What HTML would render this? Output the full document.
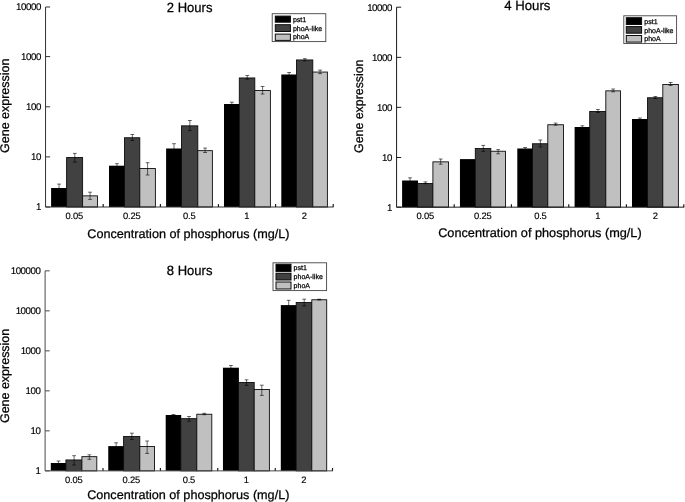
<!DOCTYPE html>
<html lang="en"><head><meta charset="utf-8"><title>Gene expression vs phosphorus concentration</title>
<style>
html,body{margin:0;padding:0;background:#fff;}
body{width:685px;height:502px;overflow:hidden;}
svg{display:block;font-family:'Liberation Sans', Arial, sans-serif;text-rendering:geometricPrecision;}
</style></head><body>
<svg width="685" height="502" viewBox="0 0 685 502">
<rect width="685" height="502" fill="#fff"/>
<rect x="51.1" y="188" width="15.9" height="19" fill="#000"/>
<rect x="66.6" y="157.55" width="16" height="49.45" fill="#414141" stroke="#0d0d0d" stroke-width="0.9"/>
<rect x="82.6" y="195.85" width="14.9" height="11.15" fill="#c0c0c0" stroke="#0d0d0d" stroke-width="0.9"/>
<path d="M59.05 184.1V191.5M57.15 184.1H60.95M57.15 191.5H60.95" stroke="#000" stroke-width="0.7" stroke-opacity="0.85" fill="none"/>
<path d="M74.8 153.4V162.1M72.9 153.4H76.7M72.9 162.1H76.7" stroke="#000" stroke-width="0.7" stroke-opacity="0.85" fill="none"/>
<path d="M90.05 192.2V199.4M88.15 192.2H91.95M88.15 199.4H91.95" stroke="#000" stroke-width="0.7" stroke-opacity="0.85" fill="none"/>
<rect x="109" y="165.7" width="15.9" height="41.3" fill="#000"/>
<rect x="124.5" y="137.75" width="15.3" height="69.25" fill="#414141" stroke="#0d0d0d" stroke-width="0.9"/>
<rect x="139.8" y="168.55" width="15.6" height="38.45" fill="#c0c0c0" stroke="#0d0d0d" stroke-width="0.9"/>
<path d="M116.95 163.7V168M115.05 163.7H118.85M115.05 168H118.85" stroke="#000" stroke-width="0.7" stroke-opacity="0.85" fill="none"/>
<path d="M132.35 134.5V140.5M130.45 134.5H134.25M130.45 140.5H134.25" stroke="#000" stroke-width="0.7" stroke-opacity="0.85" fill="none"/>
<path d="M147.6 162.7V175M145.7 162.7H149.5M145.7 175H149.5" stroke="#000" stroke-width="0.7" stroke-opacity="0.85" fill="none"/>
<rect x="166.1" y="148.5" width="15.8" height="58.5" fill="#000"/>
<rect x="181.5" y="125.85" width="16.3" height="81.15" fill="#414141" stroke="#0d0d0d" stroke-width="0.9"/>
<rect x="197.8" y="150.65" width="14.6" height="56.35" fill="#c0c0c0" stroke="#0d0d0d" stroke-width="0.9"/>
<path d="M174 143.7V154M172.1 143.7H175.9M172.1 154H175.9" stroke="#000" stroke-width="0.7" stroke-opacity="0.85" fill="none"/>
<path d="M189.85 120.5V130.6M187.95 120.5H191.75M187.95 130.6H191.75" stroke="#000" stroke-width="0.7" stroke-opacity="0.85" fill="none"/>
<path d="M205.1 148.1V152.5M203.2 148.1H207M203.2 152.5H207" stroke="#000" stroke-width="0.7" stroke-opacity="0.85" fill="none"/>
<rect x="224" y="104" width="15.7" height="103" fill="#000"/>
<rect x="239.3" y="77.95" width="15.5" height="129.05" fill="#414141" stroke="#0d0d0d" stroke-width="0.9"/>
<rect x="254.8" y="90.55" width="15.6" height="116.45" fill="#c0c0c0" stroke="#0d0d0d" stroke-width="0.9"/>
<path d="M231.85 102.2V106M229.95 102.2H233.75M229.95 106H233.75" stroke="#000" stroke-width="0.7" stroke-opacity="0.85" fill="none"/>
<path d="M247.25 75.5V79.2M245.35 75.5H249.15M245.35 79.2H249.15" stroke="#000" stroke-width="0.7" stroke-opacity="0.85" fill="none"/>
<path d="M262.6 86.5V94M260.7 86.5H264.5M260.7 94H264.5" stroke="#000" stroke-width="0.7" stroke-opacity="0.85" fill="none"/>
<rect x="281.3" y="74.5" width="15.6" height="132.5" fill="#000"/>
<rect x="296.5" y="59.95" width="16.3" height="147.05" fill="#414141" stroke="#0d0d0d" stroke-width="0.9"/>
<rect x="312.8" y="72.05" width="14.6" height="134.95" fill="#c0c0c0" stroke="#0d0d0d" stroke-width="0.9"/>
<path d="M289.1 72.5V76.5M287.2 72.5H291M287.2 76.5H291" stroke="#000" stroke-width="0.7" stroke-opacity="0.85" fill="none"/>
<path d="M304.85 58.7V60.8M302.95 58.7H306.75M302.95 60.8H306.75" stroke="#000" stroke-width="0.7" stroke-opacity="0.85" fill="none"/>
<path d="M320.1 70.1V73.6M318.2 70.1H322M318.2 73.6H322" stroke="#000" stroke-width="0.7" stroke-opacity="0.85" fill="none"/>
<path d="M45.55 7V207H333.6" stroke="#333" stroke-width="1" fill="none"/>
<path d="M45.55 7h4.6" stroke="#333" stroke-width="1"/>
<text x="40.95" y="10.3" font-size="9.7" text-anchor="end" fill="#000" letter-spacing="-0.42" stroke="#000" stroke-width="0.15">10000</text>
<path d="M45.55 56.6h4.6" stroke="#333" stroke-width="1"/>
<text x="40.95" y="59.9" font-size="9.7" text-anchor="end" fill="#000" letter-spacing="-0.42" stroke="#000" stroke-width="0.15">1000</text>
<path d="M45.55 106.8h4.6" stroke="#333" stroke-width="1"/>
<text x="40.95" y="110.1" font-size="9.7" text-anchor="end" fill="#000" letter-spacing="-0.42" stroke="#000" stroke-width="0.15">100</text>
<path d="M45.55 156.9h4.6" stroke="#333" stroke-width="1"/>
<text x="40.95" y="160.2" font-size="9.7" text-anchor="end" fill="#000" letter-spacing="-0.42" stroke="#000" stroke-width="0.15">10</text>
<path d="M45.55 207h4.6" stroke="#333" stroke-width="1"/>
<text x="40.95" y="210.3" font-size="9.7" text-anchor="end" fill="#000" letter-spacing="-0.42" stroke="#000" stroke-width="0.15">1</text>
<path d="M103.2 207v-2.9" stroke="#151515" stroke-width="1.15"/>
<path d="M160.4 207v-2.9" stroke="#151515" stroke-width="1.15"/>
<path d="M218.45 207v-2.9" stroke="#151515" stroke-width="1.15"/>
<path d="M275.6 207v-2.9" stroke="#151515" stroke-width="1.15"/>
<path d="M333.2 207v-2.9" stroke="#151515" stroke-width="1.15"/>
<text x="74.3" y="218.7" font-size="9.4" text-anchor="middle" fill="#000" letter-spacing="-0.2" stroke="#000" stroke-width="0.15">0.05</text>
<text x="131.8" y="218.7" font-size="9.4" text-anchor="middle" fill="#000" letter-spacing="-0.2" stroke="#000" stroke-width="0.15">0.25</text>
<text x="189.3" y="218.7" font-size="9.4" text-anchor="middle" fill="#000" letter-spacing="-0.2" stroke="#000" stroke-width="0.15">0.5</text>
<text x="246.8" y="218.7" font-size="9.4" text-anchor="middle" fill="#000" letter-spacing="-0.2" stroke="#000" stroke-width="0.15">1</text>
<text x="304.3" y="218.7" font-size="9.4" text-anchor="middle" fill="#000" letter-spacing="-0.2" stroke="#000" stroke-width="0.15">2</text>
<text x="189.6" y="11.8" font-size="13.4" text-anchor="middle" fill="#000" textLength="45.6" lengthAdjust="spacingAndGlyphs" stroke="#000" stroke-width="0.25">2 Hours</text>
<text x="188.4" y="237.6" font-size="12.5" text-anchor="middle" fill="#000" textLength="202.2" lengthAdjust="spacingAndGlyphs" stroke="#000" stroke-width="0.25">Concentration of phosphorus (mg/L)</text>
<text x="9.2" y="105.8" font-size="12.5" text-anchor="middle" fill="#000" textLength="94.3" lengthAdjust="spacingAndGlyphs" stroke="#000" stroke-width="0.25" transform="rotate(-90 9.2 105.8)">Gene expression</text>
<rect x="272.2" y="13.7" width="53.6" height="27.9" fill="#fff" stroke="#444" stroke-width="0.9"/>
<rect x="275.3" y="16.1" width="15.1" height="6.1" fill="#000" stroke="#0a0a0a" stroke-width="1"/>
<text x="292.9" y="21.5" font-size="7" text-anchor="start" fill="#000" stroke="#000" stroke-width="0.25">pst1</text>
<rect x="275.3" y="24.7" width="15.1" height="6.8" fill="#414141" stroke="#0a0a0a" stroke-width="1"/>
<text x="292.9" y="31" font-size="7" text-anchor="start" fill="#000" stroke="#000" stroke-width="0.25">phoA-like</text>
<rect x="275.3" y="34.1" width="15.1" height="6.3" fill="#c0c0c0" stroke="#0a0a0a" stroke-width="1"/>
<text x="292.9" y="39.3" font-size="7" text-anchor="start" fill="#000" stroke="#000" stroke-width="0.25">phoA</text>
<rect x="402.1" y="180.5" width="15.9" height="26.67" fill="#000"/>
<rect x="417.6" y="183.45" width="15.3" height="23.72" fill="#414141" stroke="#0d0d0d" stroke-width="0.9"/>
<rect x="432.9" y="161.85" width="15.6" height="45.32" fill="#c0c0c0" stroke="#0d0d0d" stroke-width="0.9"/>
<path d="M410.05 177.8V183M408.15 177.8H411.95M408.15 183H411.95" stroke="#000" stroke-width="0.7" stroke-opacity="0.85" fill="none"/>
<path d="M425.45 181.9V183.7M423.55 181.9H427.35M423.55 183.7H427.35" stroke="#000" stroke-width="0.7" stroke-opacity="0.85" fill="none"/>
<path d="M440.7 159V164.2M438.8 159H442.6M438.8 164.2H442.6" stroke="#000" stroke-width="0.7" stroke-opacity="0.85" fill="none"/>
<rect x="459.95" y="159.1" width="15.75" height="48.07" fill="#000"/>
<rect x="475.3" y="148.45" width="15.5" height="58.72" fill="#414141" stroke="#0d0d0d" stroke-width="0.9"/>
<rect x="490.8" y="151.25" width="14.7" height="55.92" fill="#c0c0c0" stroke="#0d0d0d" stroke-width="0.9"/>
<path d="M483.25 145.4V151.4M481.35 145.4H485.15M481.35 151.4H485.15" stroke="#000" stroke-width="0.7" stroke-opacity="0.85" fill="none"/>
<path d="M498.15 149.6V153.8M496.25 149.6H500.05M496.25 153.8H500.05" stroke="#000" stroke-width="0.7" stroke-opacity="0.85" fill="none"/>
<rect x="517.3" y="148.5" width="15.6" height="58.67" fill="#000"/>
<rect x="532.5" y="143.75" width="15.3" height="63.42" fill="#414141" stroke="#0d0d0d" stroke-width="0.9"/>
<rect x="547.8" y="124.75" width="15.7" height="82.42" fill="#c0c0c0" stroke="#0d0d0d" stroke-width="0.9"/>
<path d="M525.1 147.5V149.5M523.2 147.5H527M523.2 149.5H527" stroke="#000" stroke-width="0.7" stroke-opacity="0.85" fill="none"/>
<path d="M540.35 140V147M538.45 140H542.25M538.45 147H542.25" stroke="#000" stroke-width="0.7" stroke-opacity="0.85" fill="none"/>
<path d="M555.65 123.1V125.2M553.75 123.1H557.55M553.75 125.2H557.55" stroke="#000" stroke-width="0.7" stroke-opacity="0.85" fill="none"/>
<rect x="574.6" y="127" width="15.5" height="80.17" fill="#000"/>
<rect x="589.7" y="111.45" width="16.1" height="95.72" fill="#414141" stroke="#0d0d0d" stroke-width="0.9"/>
<rect x="605.8" y="90.85" width="14.7" height="116.32" fill="#c0c0c0" stroke="#0d0d0d" stroke-width="0.9"/>
<path d="M582.35 125.8V128M580.45 125.8H584.25M580.45 128H584.25" stroke="#000" stroke-width="0.7" stroke-opacity="0.85" fill="none"/>
<path d="M597.95 109.5V112.5M596.05 109.5H599.85M596.05 112.5H599.85" stroke="#000" stroke-width="0.7" stroke-opacity="0.85" fill="none"/>
<path d="M613.15 89V91.8M611.25 89H615.05M611.25 91.8H615.05" stroke="#000" stroke-width="0.7" stroke-opacity="0.85" fill="none"/>
<rect x="632" y="119" width="15.9" height="88.17" fill="#000"/>
<rect x="647.5" y="97.75" width="15.3" height="109.42" fill="#414141" stroke="#0d0d0d" stroke-width="0.9"/>
<rect x="662.8" y="84.45" width="15.6" height="122.72" fill="#c0c0c0" stroke="#0d0d0d" stroke-width="0.9"/>
<path d="M639.95 118V120M638.05 118H641.85M638.05 120H641.85" stroke="#000" stroke-width="0.7" stroke-opacity="0.85" fill="none"/>
<path d="M655.35 96.5V98.5M653.45 96.5H657.25M653.45 98.5H657.25" stroke="#000" stroke-width="0.7" stroke-opacity="0.85" fill="none"/>
<path d="M670.6 82.5V85.5M668.7 82.5H672.5M668.7 85.5H672.5" stroke="#000" stroke-width="0.7" stroke-opacity="0.85" fill="none"/>
<path d="M396.58 7.14V207.17H684.2" stroke="#1c1c1c" stroke-width="1" fill="none"/>
<path d="M396.58 7.2h4.6" stroke="#1c1c1c" stroke-width="1"/>
<text x="391.98" y="10.5" font-size="9.7" text-anchor="end" fill="#000" letter-spacing="-0.42" stroke="#000" stroke-width="0.15">10000</text>
<path d="M396.58 57.35h4.6" stroke="#1c1c1c" stroke-width="1"/>
<text x="391.98" y="60.65" font-size="9.7" text-anchor="end" fill="#000" letter-spacing="-0.42" stroke="#000" stroke-width="0.15">1000</text>
<path d="M396.58 107.35h4.6" stroke="#1c1c1c" stroke-width="1"/>
<text x="391.98" y="110.65" font-size="9.7" text-anchor="end" fill="#000" letter-spacing="-0.42" stroke="#000" stroke-width="0.15">100</text>
<path d="M396.58 157.5h4.6" stroke="#1c1c1c" stroke-width="1"/>
<text x="391.98" y="160.8" font-size="9.7" text-anchor="end" fill="#000" letter-spacing="-0.42" stroke="#000" stroke-width="0.15">10</text>
<path d="M396.58 207.2h4.6" stroke="#1c1c1c" stroke-width="1"/>
<text x="391.98" y="210.5" font-size="9.7" text-anchor="end" fill="#000" letter-spacing="-0.42" stroke="#000" stroke-width="0.15">1</text>
<path d="M454.2 207.17v-2.9" stroke="#151515" stroke-width="1.15"/>
<path d="M511.4 207.17v-2.9" stroke="#151515" stroke-width="1.15"/>
<path d="M568.75 207.17v-2.9" stroke="#151515" stroke-width="1.15"/>
<path d="M626.4 207.17v-2.9" stroke="#151515" stroke-width="1.15"/>
<path d="M683.8 207.17v-2.9" stroke="#151515" stroke-width="1.15"/>
<text x="425.34" y="218.7" font-size="9.4" text-anchor="middle" fill="#000" letter-spacing="-0.2" stroke="#000" stroke-width="0.15">0.05</text>
<text x="482.85" y="218.7" font-size="9.4" text-anchor="middle" fill="#000" letter-spacing="-0.2" stroke="#000" stroke-width="0.15">0.25</text>
<text x="540.36" y="218.7" font-size="9.4" text-anchor="middle" fill="#000" letter-spacing="-0.2" stroke="#000" stroke-width="0.15">0.5</text>
<text x="597.87" y="218.7" font-size="9.4" text-anchor="middle" fill="#000" letter-spacing="-0.2" stroke="#000" stroke-width="0.15">1</text>
<text x="655.38" y="218.7" font-size="9.4" text-anchor="middle" fill="#000" letter-spacing="-0.2" stroke="#000" stroke-width="0.15">2</text>
<text x="527.3" y="10.3" font-size="13.4" text-anchor="middle" fill="#000" textLength="46.2" lengthAdjust="spacingAndGlyphs" stroke="#000" stroke-width="0.25">4 Hours</text>
<text x="539.9" y="237.4" font-size="12.5" text-anchor="middle" fill="#000" textLength="203.5" lengthAdjust="spacingAndGlyphs" stroke="#000" stroke-width="0.25">Concentration of phosphorus (mg/L)</text>
<text x="363.4" y="106.2" font-size="12.5" text-anchor="middle" fill="#000" textLength="93.4" lengthAdjust="spacingAndGlyphs" stroke="#000" stroke-width="0.25" transform="rotate(-90 363.4 106.2)">Gene expression</text>
<rect x="623.8" y="15.8" width="52.8" height="27.7" fill="#fff" stroke="#444" stroke-width="0.9"/>
<rect x="626.3" y="17.7" width="15.3" height="6.8" fill="#000" stroke="#0a0a0a" stroke-width="1"/>
<text x="644.3" y="23.6" font-size="7" text-anchor="start" fill="#000" stroke="#000" stroke-width="0.25">pst1</text>
<rect x="626.3" y="26.6" width="15.3" height="6.6" fill="#414141" stroke="#0a0a0a" stroke-width="1"/>
<text x="644.3" y="32.8" font-size="7" text-anchor="start" fill="#000" stroke="#000" stroke-width="0.25">phoA-like</text>
<rect x="626.3" y="35.5" width="15.3" height="6.6" fill="#c0c0c0" stroke="#0a0a0a" stroke-width="1"/>
<text x="644.3" y="41.3" font-size="7" text-anchor="start" fill="#000" stroke="#000" stroke-width="0.25">phoA</text>
<rect x="50.8" y="463" width="15.5" height="7.86" fill="#000"/>
<rect x="65.9" y="459.95" width="16" height="10.91" fill="#414141" stroke="#0d0d0d" stroke-width="0.9"/>
<rect x="81.9" y="456.65" width="14.9" height="14.21" fill="#c0c0c0" stroke="#0d0d0d" stroke-width="0.9"/>
<path d="M58.55 461V465M56.65 461H60.45M56.65 465H60.45" stroke="#000" stroke-width="0.7" stroke-opacity="0.85" fill="none"/>
<path d="M74.1 455.7V465M72.2 455.7H76M72.2 465H76" stroke="#000" stroke-width="0.7" stroke-opacity="0.85" fill="none"/>
<path d="M89.35 454.8V459.3M87.45 454.8H91.25M87.45 459.3H91.25" stroke="#000" stroke-width="0.7" stroke-opacity="0.85" fill="none"/>
<rect x="108.25" y="446.1" width="15.75" height="24.76" fill="#000"/>
<rect x="123.6" y="436.45" width="16.2" height="34.41" fill="#414141" stroke="#0d0d0d" stroke-width="0.9"/>
<rect x="139.8" y="446.45" width="14.7" height="24.41" fill="#c0c0c0" stroke="#0d0d0d" stroke-width="0.9"/>
<path d="M116.12 442.8V449M114.22 442.8H118.03M114.22 449H118.03" stroke="#000" stroke-width="0.7" stroke-opacity="0.85" fill="none"/>
<path d="M131.9 433.2V439.4M130 433.2H133.8M130 439.4H133.8" stroke="#000" stroke-width="0.7" stroke-opacity="0.85" fill="none"/>
<path d="M147.15 441V453.4M145.25 441H149.05M145.25 453.4H149.05" stroke="#000" stroke-width="0.7" stroke-opacity="0.85" fill="none"/>
<rect x="165.7" y="415" width="15.5" height="55.86" fill="#000"/>
<rect x="180.8" y="418.65" width="16" height="52.21" fill="#414141" stroke="#0d0d0d" stroke-width="0.9"/>
<rect x="196.8" y="414.25" width="15" height="56.61" fill="#c0c0c0" stroke="#0d0d0d" stroke-width="0.9"/>
<path d="M173.45 414.5V416M171.55 414.5H175.35M171.55 416H175.35" stroke="#000" stroke-width="0.7" stroke-opacity="0.85" fill="none"/>
<path d="M189 416.5V421.2M187.1 416.5H190.9M187.1 421.2H190.9" stroke="#000" stroke-width="0.7" stroke-opacity="0.85" fill="none"/>
<path d="M204.3 413.3V414.7M202.4 413.3H206.2M202.4 414.7H206.2" stroke="#000" stroke-width="0.7" stroke-opacity="0.85" fill="none"/>
<rect x="222.95" y="367.7" width="15.95" height="103.16" fill="#000"/>
<rect x="238.5" y="382.45" width="15.7" height="88.41" fill="#414141" stroke="#0d0d0d" stroke-width="0.9"/>
<rect x="254.2" y="389.45" width="15.2" height="81.41" fill="#c0c0c0" stroke="#0d0d0d" stroke-width="0.9"/>
<path d="M230.93 365.5V369.5M229.03 365.5H232.83M229.03 369.5H232.83" stroke="#000" stroke-width="0.7" stroke-opacity="0.85" fill="none"/>
<path d="M246.55 379.8V385.4M244.65 379.8H248.45M244.65 385.4H248.45" stroke="#000" stroke-width="0.7" stroke-opacity="0.85" fill="none"/>
<path d="M261.8 385.2V395.4M259.9 385.2H263.7M259.9 395.4H263.7" stroke="#000" stroke-width="0.7" stroke-opacity="0.85" fill="none"/>
<rect x="280.8" y="305.1" width="15.8" height="165.76" fill="#000"/>
<rect x="296.2" y="302.45" width="15.6" height="168.41" fill="#414141" stroke="#0d0d0d" stroke-width="0.9"/>
<rect x="311.8" y="299.75" width="14.9" height="171.11" fill="#c0c0c0" stroke="#0d0d0d" stroke-width="0.9"/>
<path d="M288.7 300.3V310M286.8 300.3H290.6M286.8 310H290.6" stroke="#000" stroke-width="0.7" stroke-opacity="0.85" fill="none"/>
<path d="M304.2 299.2V305.9M302.3 299.2H306.1M302.3 305.9H306.1" stroke="#000" stroke-width="0.7" stroke-opacity="0.85" fill="none"/>
<path d="M319.25 299.2V300M317.35 299.2H321.15M317.35 300H321.15" stroke="#000" stroke-width="0.7" stroke-opacity="0.85" fill="none"/>
<path d="M45.1 270.86V470.86H332.9" stroke="#4a4a4a" stroke-width="1" fill="none"/>
<path d="M45.1 270.86h4.6" stroke="#4a4a4a" stroke-width="1"/>
<text x="40.5" y="274.16" font-size="9.7" text-anchor="end" fill="#000" letter-spacing="-0.42" stroke="#000" stroke-width="0.15">100000</text>
<path d="M45.1 310.86h4.6" stroke="#4a4a4a" stroke-width="1"/>
<text x="40.5" y="314.16" font-size="9.7" text-anchor="end" fill="#000" letter-spacing="-0.42" stroke="#000" stroke-width="0.15">10000</text>
<path d="M45.1 350.86h4.6" stroke="#4a4a4a" stroke-width="1"/>
<text x="40.5" y="354.16" font-size="9.7" text-anchor="end" fill="#000" letter-spacing="-0.42" stroke="#000" stroke-width="0.15">1000</text>
<path d="M45.1 390.86h4.6" stroke="#4a4a4a" stroke-width="1"/>
<text x="40.5" y="394.16" font-size="9.7" text-anchor="end" fill="#000" letter-spacing="-0.42" stroke="#000" stroke-width="0.15">100</text>
<path d="M45.1 430.86h4.6" stroke="#4a4a4a" stroke-width="1"/>
<text x="40.5" y="434.16" font-size="9.7" text-anchor="end" fill="#000" letter-spacing="-0.42" stroke="#000" stroke-width="0.15">10</text>
<path d="M45.1 470.86h4.6" stroke="#4a4a4a" stroke-width="1"/>
<text x="40.5" y="474.16" font-size="9.7" text-anchor="end" fill="#000" letter-spacing="-0.42" stroke="#000" stroke-width="0.15">1</text>
<path d="M103 470.86v-2.9" stroke="#151515" stroke-width="1.15"/>
<path d="M160.4 470.86v-2.9" stroke="#151515" stroke-width="1.15"/>
<path d="M217.75 470.86v-2.9" stroke="#151515" stroke-width="1.15"/>
<path d="M275.25 470.86v-2.9" stroke="#151515" stroke-width="1.15"/>
<path d="M332.5 470.86v-2.9" stroke="#151515" stroke-width="1.15"/>
<text x="73.85" y="482.8" font-size="9.4" text-anchor="middle" fill="#000" letter-spacing="-0.2" stroke="#000" stroke-width="0.15">0.05</text>
<text x="131.35" y="482.8" font-size="9.4" text-anchor="middle" fill="#000" letter-spacing="-0.2" stroke="#000" stroke-width="0.15">0.25</text>
<text x="188.85" y="482.8" font-size="9.4" text-anchor="middle" fill="#000" letter-spacing="-0.2" stroke="#000" stroke-width="0.15">0.5</text>
<text x="246.35" y="482.8" font-size="9.4" text-anchor="middle" fill="#000" letter-spacing="-0.2" stroke="#000" stroke-width="0.15">1</text>
<text x="303.85" y="482.8" font-size="9.4" text-anchor="middle" fill="#000" letter-spacing="-0.2" stroke="#000" stroke-width="0.15">2</text>
<text x="189.6" y="275.1" font-size="13.4" text-anchor="middle" fill="#000" textLength="45.6" lengthAdjust="spacingAndGlyphs" stroke="#000" stroke-width="0.25">8 Hours</text>
<text x="188.3" y="499" font-size="12.5" text-anchor="middle" fill="#000" textLength="202.2" lengthAdjust="spacingAndGlyphs" stroke="#000" stroke-width="0.25">Concentration of phosphorus (mg/L)</text>
<text x="9.3" y="375.9" font-size="12.5" text-anchor="middle" fill="#000" textLength="94.3" lengthAdjust="spacingAndGlyphs" stroke="#000" stroke-width="0.25" transform="rotate(-90 9.3 375.9)">Gene expression</text>
<rect x="273" y="262.8" width="53.6" height="27.8" fill="#fff" stroke="#444" stroke-width="0.9"/>
<rect x="276" y="264.2" width="15" height="7.4" fill="#000" stroke="#0a0a0a" stroke-width="1"/>
<text x="293.6" y="270.15" font-size="7" text-anchor="start" fill="#000" stroke="#000" stroke-width="0.25">pst1</text>
<rect x="276" y="273.3" width="15" height="6.7" fill="#414141" stroke="#0a0a0a" stroke-width="1"/>
<text x="293.6" y="279.05" font-size="7" text-anchor="start" fill="#000" stroke="#000" stroke-width="0.25">phoA-like</text>
<rect x="276" y="282" width="15" height="7" fill="#c0c0c0" stroke="#0a0a0a" stroke-width="1"/>
<text x="293.6" y="287.9" font-size="7" text-anchor="start" fill="#000" stroke="#000" stroke-width="0.25">phoA</text>
</svg>
</body></html>
